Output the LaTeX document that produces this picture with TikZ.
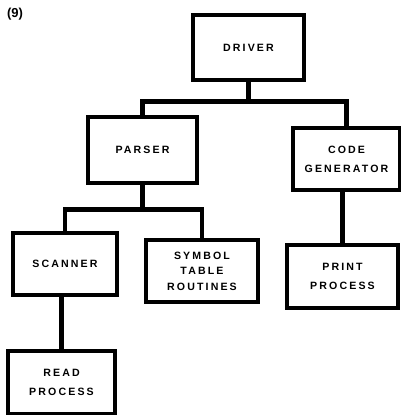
\documentclass[tikz,border=0pt]{standalone}
\usepackage{fontspec}
\usetikzlibrary{calc}
\setmainfont{Liberation Sans}
\newfontfamily\boxfont[LetterSpace=20]{Liberation Sans}
\begin{document}
\begin{tikzpicture}[x=1pt,y=-1pt,
  unit/.style={draw, line width=3.2pt, inner sep=0pt, align=center,
    font=\boxfont\bfseries\fontsize{10.6}{19}\selectfont},
  link/.style={line width=4.4pt}]
\useasboundingbox (0,0) rectangle (401,415);

% figure tag
\node[font=\bfseries\fontsize{13}{13}\selectfont] (tag) at (15,14) {(9)};

% program modules
\node[unit, minimum width=111pt, minimum height=65pt] (driver) at (248.5,47.5) {DRIVER};
\node[unit, minimum width=109pt, minimum height=66pt] (parser) at (142.5,150) {PARSER};
\node[unit, minimum width=107pt, minimum height=62pt] (codegen) at (346.5,159) {CODE\\GENERATOR};
\node[unit, minimum width=104pt, minimum height=62pt] (scanner) at (65,264) {SCANNER};
\node[unit, minimum width=112pt, minimum height=62pt, font=\boxfont\bfseries\fontsize{10.6}{15.5}\selectfont] (symtab) at (202,271) {SYMBOL\\TABLE\\ROUTINES};
\node[unit, minimum width=111pt, minimum height=63pt] (print) at (342.5,276.5) {PRINT\\PROCESS};
\node[unit, minimum width=107pt, minimum height=63pt] (read) at (61.5,382.5) {READ\\PROCESS};

% calling structure
\coordinate (dbar) at ($(driver.south)+(0,20)$);
\draw[link] (driver.south) -- (dbar) -| (parser.north);
\draw[link] (dbar) -| (codegen.north);
\coordinate (pbar) at ($(parser.south)+(0,25)$);
\draw[link] (parser.south) -- (pbar) -| (scanner.north);
\draw[link] (pbar) -| (symtab.north);
\draw[link] (print.north) -- (print.north |- codegen.south);
\draw[link] (read.north) -- (read.north |- scanner.south);
\end{tikzpicture}
\end{document}
